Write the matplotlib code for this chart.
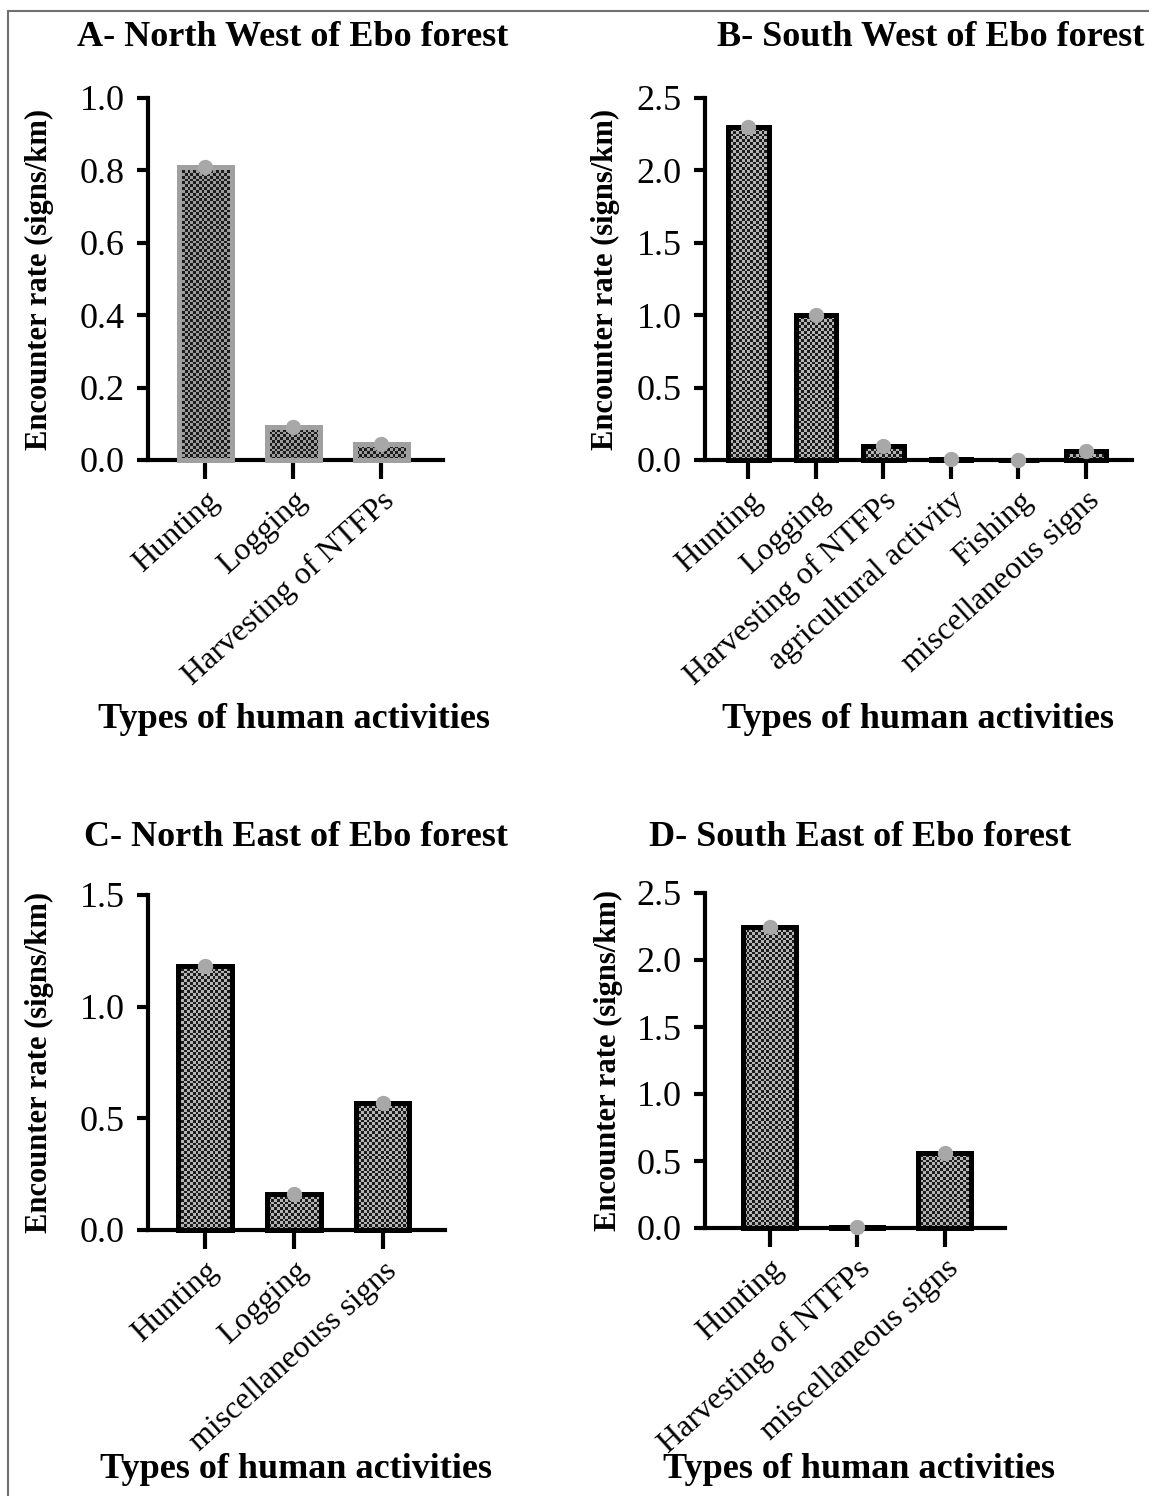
"""
Encounter rate of human activity signs in the four sectors of Ebo forest.
Bar chart in 4 panels (A-D), checkered bars with a grey point on top.
"""

import numpy as np
import matplotlib
matplotlib.use("Agg")
import matplotlib.pyplot as plt
from matplotlib.colors import ListedColormap
from matplotlib.patches import Rectangle

# ---------------------------------------------------------------------------
# 1. DATA
# ---------------------------------------------------------------------------

categories_a = ["Hunting", "Logging", "Harvesting of NTFPs"]
valeurs_a = [0.81, 0.09, 0.045]

categories_b = ["Hunting", "Logging", "Harvesting of NTFPs",
                "agricultural activity", "Fishing", "miscellaneous signs"]
valeurs_b = [2.30, 1.00, 0.10, 0.01, 0.0, 0.06]

categories_c = ["Hunting", "Logging", "miscellaneouss signs"]
valeurs_c = [1.18, 0.16, 0.57]

categories_d = ["Hunting", "Harvesting of NTFPs", "miscellaneous signs"]
valeurs_d = [2.25, 0.01, 0.56]

titres = ["A- North West of Ebo forest", "B- South West of Ebo forest",
          "C- North East of Ebo forest", "D- South East of Ebo forest"]
ticks_y_a = [0.0, 0.2, 0.4, 0.6, 0.8, 1.0]
ticks_y_b = [0.0, 0.5, 1.0, 1.5, 2.0, 2.5]
ticks_y_c = [0.0, 0.5, 1.0, 1.5]
ticks_y_d = [0.0, 0.5, 1.0, 1.5, 2.0, 2.5]

TITRE_Y = "Encounter rate (signs/km)"
TITRE_X = "Types of human activities"

# ---------------------------------------------------------------------------
# 2. STYLE
# ---------------------------------------------------------------------------

plt.rcParams["font.family"] = ["Liberation Serif", "DejaVu Serif"]
W, H, DPI = 1149, 1496, 100
GRIS_POINT = "#a8a8a8"
TAILLE_CASE = 2.8   # size of one checker square, in pixels

fig = plt.figure(figsize=(W / DPI, H / DPI), dpi=DPI)

# thin grey frame around the whole figure
fig.patches.append(Rectangle((8 / W, -0.1), 1.2, 1.1 - 11 / H,
                             transform=fig.transFigure, fill=False,
                             edgecolor="#707070", linewidth=1.5))

# axes positions [left, bottom, width, height] in figure fraction
panneaux = [
    dict(cats=categories_a, vals=valeurs_a, ticks=ticks_y_a,
         pos=[148 / W, 1 - 460 / H, 295 / W, 362 / H], xlim=(-0.65, 2.70),
         bord="#a0a0a0", clair="#9c9c9c", ylab_x=-0.32,
         titre_xy=(293 / W, 1 - 38 / H), xlab_xy=(294 / W, 1 - 720 / H)),
    dict(cats=categories_b, vals=valeurs_b, ticks=ticks_y_b,
         pos=[705 / W, 1 - 460 / H, 427 / W, 362 / H], xlim=(-0.64, 5.68),
         bord="black", clair="#b4b4b4", ylab_x=-0.20,
         titre_xy=(931 / W, 1 - 38 / H), xlab_xy=(918 / W, 1 - 720 / H)),
    dict(cats=categories_c, vals=valeurs_c, ticks=ticks_y_c,
         pos=[148 / W, 1 - 1230 / H, 297 / W, 335 / H], xlim=(-0.64, 2.70),
         bord="black", clair="#b4b4b4", ylab_x=-0.316,
         titre_xy=(296 / W, 1 - 838 / H), xlab_xy=(296 / W, 1 - 1470 / H)),
    dict(cats=categories_d, vals=valeurs_d, ticks=ticks_y_d,
         pos=[705 / W, 1 - 1228 / H, 300 / W, 335 / H], xlim=(-0.74, 2.69),
         bord="black", clair="#b4b4b4", ylab_x=-0.273,
         titre_xy=(860 / W, 1 - 838 / H), xlab_xy=(859 / W, 1 - 1470 / H)),
]

# ---------------------------------------------------------------------------
# 3. DRAWING
# ---------------------------------------------------------------------------

for p, titre in zip(panneaux, titres):
    ax = fig.add_axes(p["pos"])
    x = np.arange(len(p["cats"]))
    ylim = (0, p["ticks"][-1])

    # checker pattern, clipped to every bar
    nx = int(p["pos"][2] * W / TAILLE_CASE)
    ny = int(p["pos"][3] * H / TAILLE_CASE)
    damier = (np.indices((ny, nx)).sum(axis=0) % 2).astype(float)
    cmap = ListedColormap(["#1c1c1c", p["clair"]])

    barres = ax.bar(x, p["vals"], width=0.6, facecolor="none",
                    edgecolor=p["bord"], linewidth=3.6, zorder=3,
                    clip_on=False)
    for barre in barres:
        im = ax.imshow(damier, cmap=cmap, extent=(*p["xlim"], *ylim),
                       aspect="auto", interpolation="nearest", zorder=2)
        im.set_clip_path(barre)
    ax.set_xlim(*p["xlim"])
    ax.set_ylim(*ylim)

    ax.plot(x, p["vals"], "o", color=GRIS_POINT, markersize=10,
            zorder=4, clip_on=False)

    # axes
    for cote in ["top", "right"]:
        ax.spines[cote].set_visible(False)
    for cote in ["left", "bottom"]:
        ax.spines[cote].set_linewidth(3)
    ax.set_yticks(p["ticks"])
    ax.set_yticklabels([f"{t:.1f}" for t in p["ticks"]], fontsize=26)
    ax.tick_params(axis="y", length=8, width=3, pad=9)
    ax.set_xticks(x)
    ax.set_xticklabels(p["cats"], fontsize=23, rotation=42, ha="right",
                       rotation_mode="anchor")
    ax.tick_params(axis="x", length=14, width=3, pad=5)

    ax.set_ylabel(TITRE_Y, fontsize=22, fontweight="bold")
    ax.yaxis.set_label_coords(p["ylab_x"], 0.5)

    fig.text(*p["titre_xy"], titre, fontsize=26, fontweight="bold",
             ha="center", va="center")
    fig.text(*p["xlab_xy"], TITRE_X, fontsize=26, fontweight="bold",
             ha="center", va="center")

fig.savefig("out.png", dpi=DPI)
